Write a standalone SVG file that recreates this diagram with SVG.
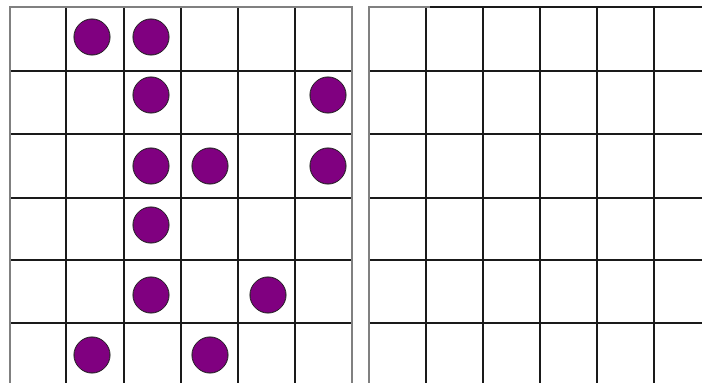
<svg xmlns="http://www.w3.org/2000/svg" width="702" height="383" viewBox="0 0 702 383">
<style>
.in{stroke:#1a1a1a;stroke-width:2;fill:none}
.ed{stroke:#808080;stroke-width:2;fill:none}
.dot{fill:#800080;stroke:#1a1a1a;stroke-width:1}
</style>
<rect width="702" height="383" fill="#fff"/>
<g id="left-grid">
<path class="in" d="M66 7V383M124 7V383M181 7V383M238 7V383M295 7V383M10 71H352M10 134H352M10 198H352M10 260H352M10 323H352"/>
<path class="ed" d="M10 383V7H352V383"/>
</g>
<g id="right-grid">
<path class="in" d="M426 7V383M483 7V383M540 7V383M597 7V383M654 7V383M369 71H702M369 134H702M369 198H702M369 260H702M369 323H702M369 7H702"/>
<path class="ed" d="M369 383V7H430"/>
</g>
<g id="dots">
<circle class="dot" cx="92" cy="37" r="18"/>
<circle class="dot" cx="151" cy="37" r="18"/>
<circle class="dot" cx="151" cy="95" r="18"/>
<circle class="dot" cx="328" cy="95" r="18"/>
<circle class="dot" cx="151" cy="166" r="18"/>
<circle class="dot" cx="210" cy="166" r="18"/>
<circle class="dot" cx="328" cy="166" r="18"/>
<circle class="dot" cx="151" cy="225" r="18"/>
<circle class="dot" cx="151" cy="295" r="18"/>
<circle class="dot" cx="268" cy="295" r="18"/>
<circle class="dot" cx="92" cy="355" r="18"/>
<circle class="dot" cx="210" cy="355" r="18"/>
</g>
</svg>
